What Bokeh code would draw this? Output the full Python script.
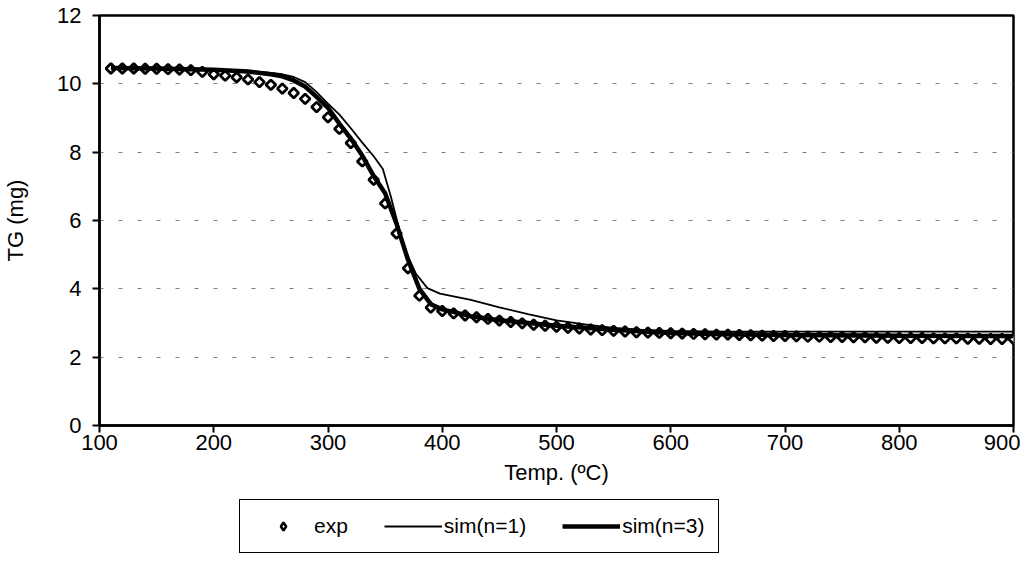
import numpy as np
from bokeh.plotting import figure
from bokeh.layouts import column
from bokeh.models import Legend, LegendItem, FixedTicker
from bokeh.embed import file_html
from bokeh.resources import INLINE

# experimental TG curve (every 10 degC)
exp_temp = list(range(110, 901, 10))
exp_tg = [10.45, 10.45, 10.45, 10.44, 10.44, 10.43, 10.42, 10.40, 10.35, 10.28,
          10.24, 10.19, 10.13, 10.05, 9.97, 9.86, 9.73, 9.56, 9.32, 9.02,
          8.68, 8.27, 7.73, 7.19, 6.50, 5.62, 4.60, 3.80, 3.45, 3.35,
          3.28, 3.22, 3.17, 3.12, 3.07, 3.03, 2.99, 2.95, 2.92, 2.89,
          2.86, 2.84, 2.81, 2.79, 2.77, 2.75, 2.73, 2.72, 2.71, 2.70,
          2.69, 2.68, 2.67, 2.66, 2.66, 2.65, 2.64, 2.63, 2.62, 2.62,
          2.61, 2.60, 2.60, 2.59, 2.59, 2.58, 2.58, 2.57, 2.57, 2.56,
          2.56, 2.56, 2.55, 2.55, 2.55, 2.54, 2.54, 2.53, 2.53, 2.53]

# simulation, n=1
sim1_temp = [110, 150, 200, 230, 250, 260, 270, 280, 290, 300, 310, 320, 330, 340,
             348, 355, 360, 365, 370, 377, 387, 398, 425, 450, 475, 500, 525, 550,
             575, 600, 650, 700, 800, 900]
sim1_tg = [10.46, 10.45, 10.42, 10.38, 10.32, 10.28, 10.20, 10.05, 9.76, 9.42, 9.10,
           8.70, 8.28, 7.88, 7.51, 6.70, 6.05, 5.41, 4.95, 4.44, 4.02, 3.86, 3.68,
           3.46, 3.26, 3.08, 2.96, 2.86, 2.80, 2.77, 2.75, 2.75, 2.75, 2.75]

# simulation, n=3
sim3_temp = [110, 150, 200, 230, 250, 260, 270, 280, 290, 300, 310, 320, 330, 340,
             350, 360, 370, 380, 390, 400, 425, 450, 500, 550, 600, 650, 700, 800, 900]
sim3_tg = [10.46, 10.45, 10.41, 10.36, 10.28, 10.22, 10.10, 9.92, 9.62, 9.30, 8.83,
           8.40, 7.90, 7.30, 6.80, 5.90, 4.85, 4.00, 3.55, 3.40, 3.20, 3.08, 2.92,
           2.80, 2.71, 2.67, 2.65, 2.63, 2.62]

x_ticks = [100, 200, 300, 400, 500, 600, 700, 800, 900]
y_ticks = [0, 2, 4, 6, 8, 10, 12]

FONT = "Liberation Sans"

p = figure(width=1020, height=495, x_range=(100, 900), y_range=(0, 12),
           output_backend="svg", toolbar_location=None,
           min_border_left=99, min_border_right=7, min_border_top=15, min_border_bottom=70)

p.outline_line_color = "black"
p.outline_line_width = 2.5
p.xgrid.grid_line_color = None
p.ygrid.grid_line_color = "#808080"
p.ygrid.grid_line_dash = "4 15"
p.ygrid.grid_line_width = 1

for ax in (p.xaxis[0], p.yaxis[0]):
    ax.axis_line_width = 2.5
    ax.major_tick_line_width = 2
    ax.major_tick_out = 7
    ax.major_tick_in = 0
    ax.minor_tick_line_color = None
    ax.major_label_text_font = FONT
    ax.major_label_text_font_size = "22px"
    ax.major_label_text_color = "black"
    ax.axis_label_text_font = FONT
    ax.axis_label_text_font_size = "22px"
    ax.axis_label_text_font_style = "normal"
    ax.axis_label_text_color = "black"

p.xaxis.ticker = FixedTicker(ticks=x_ticks)
p.yaxis.ticker = FixedTicker(ticks=y_ticks)
p.xaxis.axis_label = "Temp. (ºC)"
p.yaxis.axis_label = "TG (mg)"
p.xaxis.major_label_standoff = 2
p.yaxis.major_label_standoff = 11
p.xaxis.axis_label_standoff = 7
p.yaxis.axis_label_standoff = 26

s1_style = dict(line_color="black", line_width=1.8)
s3_style = dict(line_color="black", line_width=4.5)

# rotated squares look like Excel's diamond markers
p.scatter(exp_temp, exp_tg, marker="square", angle=np.pi / 4, size=7,
          fill_color="white", line_color="black", line_width=2.8)
p.line(sim1_temp, sim1_tg, **s1_style)
p.line(sim3_temp, sim3_tg, **s3_style)

# legend strip under the chart; the same series are drawn there, out of view
leg = figure(width=1020, height=74, x_range=(0, 1), y_range=(0, 1),
             output_backend="svg", toolbar_location=None,
             x_axis_location=None, y_axis_location=None,
             min_border_left=0, min_border_right=0, min_border_top=0, min_border_bottom=0)
leg.outline_line_color = None
leg.grid.grid_line_color = None
l_exp = leg.scatter(exp_temp, exp_tg, marker="diamond", size=7,
                    fill_color="white", line_color="black", line_width=2.5)
l_s1 = leg.line(sim1_temp, sim1_tg, **s1_style)
l_s3 = leg.line(sim3_temp, sim3_tg, **s3_style)

legend = Legend(items=[LegendItem(label="exp", renderers=[l_exp], index=0),
                       LegendItem(label="sim(n=1)", renderers=[l_s1]),
                       LegendItem(label="sim(n=3)", renderers=[l_s3])],
                orientation="horizontal", location=(140, 16))
legend.label_text_font = FONT
legend.label_text_font_size = "21px"
legend.label_text_color = "black"
legend.glyph_width = 58
legend.glyph_height = 20
legend.label_standoff = 2
legend.spacing = 36
legend.padding = 14
legend.margin = 0
legend.border_line_color = "black"
legend.border_line_alpha = 1
legend.border_line_width = 1.5
legend.background_fill_alpha = 1
leg.add_layout(legend, "center")

page = column(p, leg, spacing=0)
open("out.html", "w").write(file_html(page, INLINE))
